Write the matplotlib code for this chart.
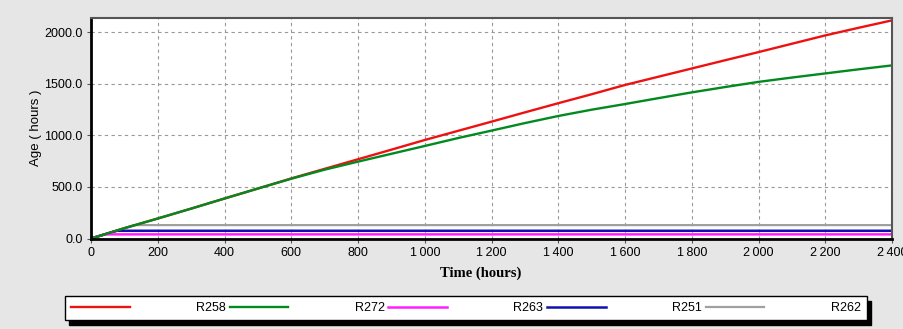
import matplotlib
matplotlib.use("Agg")
import matplotlib.pyplot as plt

# time axis (hours) and ages
t_main = [0, 100, 200, 300, 400, 500, 600, 700, 800, 900, 1000, 1100, 1200,
          1300, 1400, 1500, 1600, 1700, 1800, 1900, 2000, 2100, 2200, 2300, 2400]
r258 = [0, 100, 194, 290, 388, 485, 583, 676, 769, 862, 956, 1045, 1134,
        1224, 1313, 1400, 1490, 1570, 1650, 1730, 1809, 1890, 1971, 2045, 2117]
r272 = [0, 100, 194, 290, 388, 485, 580, 668, 746, 822, 898, 975, 1047,
        1120, 1189, 1250, 1305, 1362, 1418, 1470, 1520, 1562, 1602, 1642, 1680]

t_r263 = [0, 40, 2400]
r263 = [0, 40, 40]
t_r251 = [0, 78, 2400]
r251 = [0, 75, 75]
t_r262 = [0, 130, 2400]
r262 = [0, 130, 130]

xticks = list(range(0, 2401, 200))
xlabels = ["0", "200", "400", "600", "800", "1\u2009000", "1\u2009200", "1\u2009400",
           "1\u2009600", "1\u2009800", "2\u2009000", "2\u2009200", "2\u2009400"]
yticks = [0, 500, 1000, 1500, 2000]
ylabels = ["0.0", "500.0", "1000.0", "1500.0", "2000.0"]

sans = ["Liberation Sans", "DejaVu Sans"]

fig = plt.figure(figsize=(9.04, 3.29), dpi=100, facecolor="#e6e6e6")
ax = fig.add_axes([91 / 904, 1 - 238.5 / 329, 801 / 904, 220.5 / 329])
ax.set_facecolor("white")

l_r262, = ax.plot(t_r262, r262, color="#a0a0a0", lw=1.6)
l_r251, = ax.plot(t_r251, r251, color="#1010b0", lw=1.8)
l_r263, = ax.plot(t_r263, r263, color="#ff20ff", lw=1.8)
l_r258, = ax.plot(t_main, r258, color="#ee1111", lw=1.7)
l_r272, = ax.plot(t_main, r272, color="#008a20", lw=1.7)

ax.set_xlim(0, 2400)
ax.set_ylim(0, 2140)
ax.set_xticks(xticks)
ax.set_xticklabels(xlabels, family=sans, fontsize=9)
ax.set_yticks(yticks)
ax.set_yticklabels(ylabels, family=sans, fontsize=9)
ax.tick_params(axis="both", length=3, width=0.8, color="#555555", pad=3)
ax.grid(True, color="#999999", linestyle=(0, (3, 3)), linewidth=0.8)

for side in ["left", "bottom"]:
    ax.spines[side].set_color("black")
    ax.spines[side].set_linewidth(2)
for side in ["top", "right"]:
    ax.spines[side].set_color("#555555")
    ax.spines[side].set_linewidth(1.5)

ax.set_xlabel("Time (hours)", family="Liberation Serif", fontweight="bold",
              fontsize=10.5)
ax.xaxis.set_label_coords(0.487, -0.128)
ax.set_ylabel("Age ( hours )", family=sans, fontsize=9.5, labelpad=2)

leg = fig.legend([l_r258, l_r272, l_r263, l_r251, l_r262],
                 ["R258", "R272", "R263", "R251", "R262"],
                 loc="center", bbox_to_anchor=(466 / 904, 1 - 308 / 329),
                 ncol=5, frameon=True, fancybox=False, edgecolor="black",
                 shadow={"color": "black", "alpha": 1, "ox": 3, "oy": -3.5},
                 prop={"family": sans, "size": 9},
                 handlelength=4.7, handletextpad=5.3, columnspacing=0.3,
                 borderpad=0.5, borderaxespad=0)
leg.get_frame().set_linewidth(1.0)

fig.savefig("out.png", dpi=100, facecolor=fig.get_facecolor())
